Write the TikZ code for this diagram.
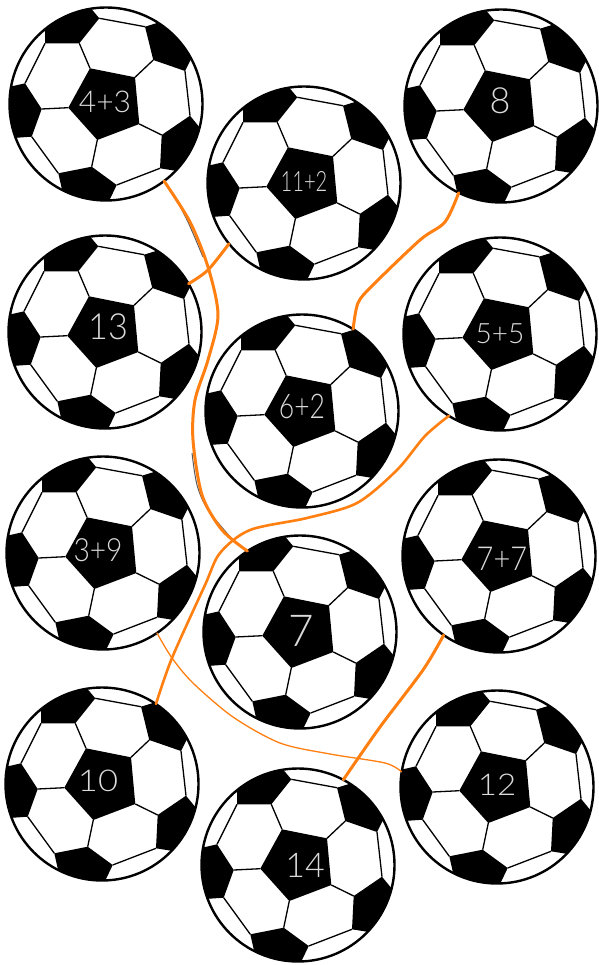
\documentclass[tikz,border=0pt]{standalone}
\usepackage{graphicx}
\usepackage{fontspec}
\newfontfamily\hand{Lato Light}
\definecolor{wire}{HTML}{FF7F11}
\definecolor{chalk}{HTML}{DADADA}
\newcommand{\nar}[2]{\scalebox{#1}[1]{#2}}
\tikzset{
  ballnode/.style={circle,draw=black,line width=2.4pt,minimum size=193pt,inner sep=0pt,outer sep=0pt},
  seam/.style={line width=1.3pt,line join=round},
  patch/.style={fill=black},
  lab/.style={text=chalk,font=\hand\fontsize{#1}{#1}\selectfont,inner sep=0pt},
  wirethick/.style={draw=wire,line width=3pt,line cap=round},
  wirethin/.style={draw=wire,line width=1.3pt,line cap=round},
  shade/.style={draw=black!65,line width=1pt},
}
\newcommand{\soccer}[6]{% name, cx, cy, label, label offset, size
  \node[ballnode,fill=white] (#1) at (#2,#3) {};
  \begin{scope}[shift={(#2,#3)}]
    \begin{scope}
      \clip (0,0) circle (96.5);
      \fill[patch] (-16,-35.7)--(29,-26.7)--(33.3,20)--(-8.7,36)--(-37.7,3.7)--cycle;
      \fill[patch] (-14.3,-94.7)--(-6.7,-85.7)--(-26.7,-60.7)--(-61,-60.7)--(-61,-72.3)--(-70,-85)--(-20,-105)--cycle;
      \fill[patch] (50,-80.7)--(39,-77.3)--(47.3,-44)--(79,-33)--(84,-43)--(100,-60)--(65,-95)--cycle;
      \fill[patch] (84,11.7)--(55.7,31)--(54,64.3)--(69,66.7)--(85,80)--(110,30)--(93,22.7)--cycle;
      \fill[patch] (-47.7,69.3)--(-14.3,62.7)--(10.7,81)--(4,95)--(5,105)--(-50,100)--(-44.3,84.3)--cycle;
      \fill[patch] (-92.7,-18)--(-81,-20.7)--(-64.3,5)--(-74.3,32.7)--(-88.7,33.7)--(-105,40)--(-110,-20)--cycle;
    \end{scope}
    \draw[seam] (-26.7,-60.7)--(-16,-35.7);
    \draw[seam] (-6.7,-85.7)--(39,-77.3);
    \draw[seam] (47.3,-44)--(29,-26.7);
    \draw[seam] (79,-33)--(84,11.7);
    \draw[seam] (33.3,20)--(55.7,31);
    \draw[seam] (54,64.3)--(10.7,81);
    \draw[seam] (-8.7,36)--(-14.3,62.7);
    \draw[seam] (-64.3,5)--(-37.7,3.7);
    \draw[seam] (-74.3,32.7)--(-47.7,69.3);
    \draw[seam] (-61,-60.7)--(-81,-20.7);
    \node[lab=#6] (#1t) at (#5) {#4};
  \end{scope}
}
\begin{document}
\begin{tikzpicture}[x=1pt,y=-1pt]
\useasboundingbox (0,0) rectangle (598,965);
\fill[white] (0,0) rectangle (598,965);
\soccer{bA}{106}{104}{4+3}{-1,-2}{30}
\soccer{bB}{304}{183}{\nar{.72}{11+2}}{0,-2}{28}
\soccer{bC}{501}{106}{8}{-1,-5}{36}
\soccer{bD}{105}{332}{\nar{.95}{13}}{3,-5}{36}
\soccer{bE}{500}{334}{5+5}{0,0}{28}
\soccer{bF}{302}{411}{\nar{.78}{6+2}}{0,-5}{34}
\soccer{bG}{103}{553}{\nar{.88}{3+9}}{-5,-3}{32}
\soccer{bH}{499}{556}{\nar{.88}{7+7}}{3,3}{33}
\soccer{bI}{300}{632}{7}{1,-1}{44}
\soccer{bJ}{102}{784}{\nar{1.15}{10}}{-4,-3}{30}
\soccer{bK}{497}{787}{\nar{1.1}{12}}{0,-2}{30}
\soccer{bL}{298}{865}{14}{7,0}{34}

% pencil shadow beside the first connector
\draw[shade] plot[smooth] coordinates {(173,193) (188,222) (203,257)};
\draw[shade] plot[smooth] coordinates {(192,453) (197,485) (208,510) (233,540)};

\draw[wirethick] plot[smooth] coordinates {(bA.-53) (190,222) (208,267) (218,315) (208,360) (195,400) (193,440) (202,495) (222,530) (bI.123)};
\draw[wirethick] plot[smooth] coordinates {(bB.219) (208,270) (bD.30)};
\draw[wirethick] plot[smooth] coordinates {(bC.-116) (445,222) (420,240) (373,285) (358,303) (bF.58)};
\draw[wirethick,line width=2.6pt] plot[smooth] coordinates {(bE.-122) (425,436) (397,470) (357,503) (307,518) (250,530) (220,553) (205,585) (172,658) (bJ.56)};
\draw[wirethin] plot[smooth] coordinates {(bG.-56.5) (172,658) (193,683) (233,717) (280,743) (330,754) (385,763) (bK.171)};
\draw[wirethick] plot[smooth] coordinates {(bH.-125) (423,670) (380,727) (bL.62)};
\end{tikzpicture}
\end{document}
